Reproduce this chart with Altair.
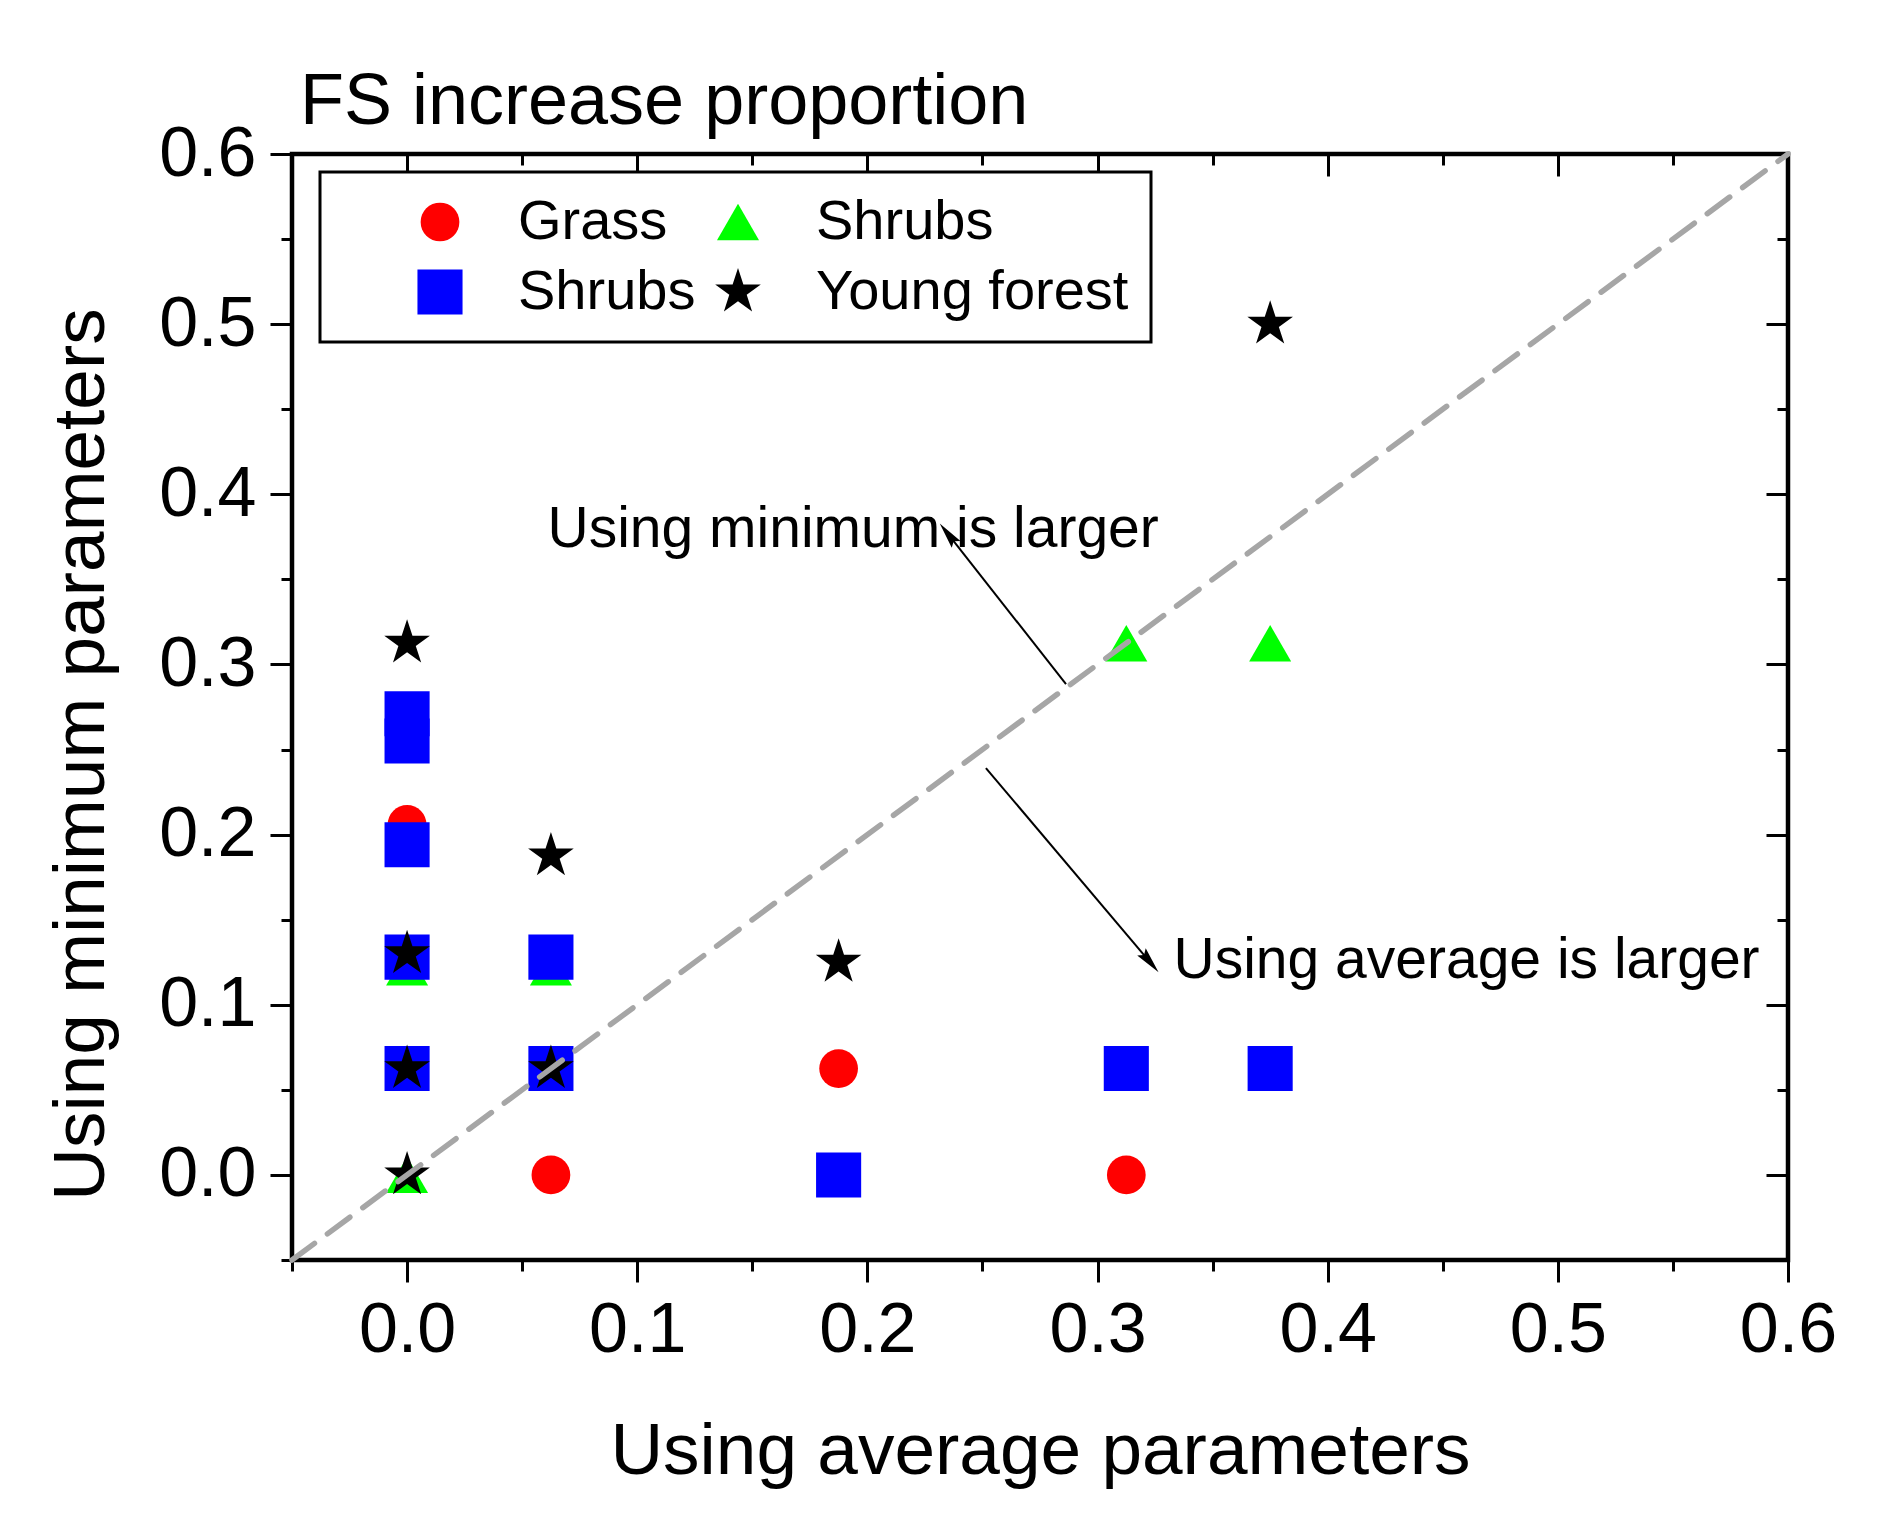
import altair as alt
import pandas as pd
import numpy as np

FONT = "Liberation Sans"

# ---- data ----
series_names = ["Grass", "Shrubs", "Shrubs ", "Young forest"]
series_colors = ["#FF0000", "#00FF00", "#0000FF", "#000000"]

grass_x = [0.0, 0.0, 0.0, 0.0, 0.0625, 0.0625, 0.1875, 0.3125, 0.375]
grass_y = [0.125, 0.194, 0.206, 0.256, 0.0, 0.128, 0.0625, 0.0, 0.0625]

shrubs_tri_x = [0.0, 0.0, 0.0, 0.0625, 0.0625, 0.1875, 0.3125, 0.375]
shrubs_tri_y = [0.0, 0.122, 0.26, 0.0625, 0.122, 0.0, 0.3125, 0.3125]

shrubs_sq_x = [0.0, 0.0, 0.0, 0.0, 0.0, 0.0625, 0.0625, 0.1875, 0.3125, 0.375]
shrubs_sq_y = [0.0625, 0.128, 0.194, 0.255, 0.271, 0.0625, 0.128, 0.0, 0.0625, 0.0625]

forest_x = [0.0, 0.0, 0.0, 0.0, 0.0625, 0.0625, 0.1875, 0.375]
forest_y = [0.0, 0.0625, 0.13, 0.3125, 0.0625, 0.1875, 0.125, 0.5]

diag_x = [-0.05, 0.6]
diag_y = [-0.05, 0.6]

note_text = ["Using minimum is larger", "Using average is larger"]
note_x = [0.061, 0.333]
note_y = [0.369, 0.1157]
arrow_x1 = [0.2863, 0.2515]
arrow_y1 = [0.2885, 0.2391]
arrow_x2 = [0.235, 0.3228]
arrow_y2 = [0.3767, 0.1251]

tick_values = [-0.05, 0.0, 0.05, 0.1, 0.15, 0.2, 0.25, 0.3, 0.35, 0.4, 0.45, 0.5, 0.55, 0.6]

# ---- tables ----
rows = []
for name, xs_, ys_ in [
    (series_names[0], grass_x, grass_y),
    (series_names[1], shrubs_tri_x, shrubs_tri_y),
    (series_names[2], shrubs_sq_x, shrubs_sq_y),
    (series_names[3], forest_x, forest_y),
]:
    for a, b in zip(xs_, ys_):
        rows.append({"x": a, "y": b, "series": name})
df = pd.DataFrame(rows)
diag_df = pd.DataFrame({"x": diag_x, "y": diag_y})
note_df = pd.DataFrame({"x": note_x, "y": note_y, "t": note_text})

W, H = 1496, 1106
XD = [-0.05, 0.6]
YD = [-0.05, 0.6]
px_per_x = W / (XD[1] - XD[0])
px_per_y = H / (YD[1] - YD[0])
ang = [float(np.degrees(np.arctan2((x2 - x1) * px_per_x, (y2 - y1) * px_per_y)))
       for x1, y1, x2, y2 in zip(arrow_x1, arrow_y1, arrow_x2, arrow_y2)]
ang = [a % 360 for a in ang]
arrow_df = pd.DataFrame({"x1": arrow_x1, "y1": arrow_y1, "x2": arrow_x2, "y2": arrow_y2, "a": ang})

xs = alt.Scale(domain=XD, nice=False, zero=False)
ys = alt.Scale(domain=YD, nice=False, zero=False)

is_minor = "abs(datum.value*10 - round(datum.value*10)) > 0.001"
label_expr = "abs(datum.value*10 - round(datum.value*10)) < 0.001 ? format(datum.value, '.1f') : ''"
tick_size = {"condition": {"test": is_minor, "value": 11}, "value": 22}

x_bottom = alt.Axis(orient="bottom", values=tick_values, labelExpr=label_expr, tickSize=tick_size,
                    tickWidth=3, tickColor="black", domain=False, grid=False,
                    labelFont=FONT, labelFontSize=70, labelColor="black", labelPadding=14,
                    labelFlush=False, labelOverlap=False,
                    title="Using average parameters", titleFont=FONT, titleFontSize=73,
                    titleFontWeight="normal", titleColor="black", titlePadding=50)
y_left = alt.Axis(orient="left", values=tick_values, labelExpr=label_expr, tickSize=tick_size,
                  tickWidth=3, tickColor="black", domain=False, grid=False,
                  labelFont=FONT, labelFontSize=70, labelColor="black", labelPadding=14,
                  labelFlush=False, labelOverlap=False,
                  title="Using minimum parameters", titleFont=FONT, titleFontSize=73,
                  titleFontWeight="normal", titleColor="black", titlePadding=40,
                  titleY=600, titleAlign="center")
x_top_in = alt.Axis(orient="bottom", offset=-H, values=tick_values, tickSize=tick_size, tickWidth=3,
                    tickColor="black", labels=False, domain=False, grid=False, title=None)
y_right_in = alt.Axis(orient="left", offset=-W, values=tick_values, tickSize=tick_size, tickWidth=3,
                      tickColor="black", labels=False, domain=False, grid=False, title=None)

star_path = ("M0,-1L0.2245,-0.309L0.951,-0.309L0.363,0.118L0.588,0.809L0,0.382"
             "L-0.588,0.809L-0.363,0.118L-0.951,-0.309L-0.2245,-0.309Z")
shapes = ["circle", "triangle-up", "square", star_path]
sizes = [1500, 2300, 1150, 1800]

leg = alt.Legend(title=" ", titleOrient="left", titleFontSize=8, titlePadding=70,
                 orient="none", legendX=28, legendY=18, columns=2, direction="horizontal",
                 labelFont=FONT, labelFontSize=56, labelColor="black", labelLimit=1000,
                 labelExpr="datum.label == 'Young forest' ? datum.label + '    ' : datum.label",
                 symbolStrokeWidth=0, padding=22, rowPadding=14, columnPadding=14,
                 symbolOffset=0, labelOffset=50,
                 strokeColor="black", fillColor="white")

points = alt.Chart(df).mark_point(filled=True, opacity=1, strokeWidth=0).encode(
    x=alt.X("x:Q", scale=xs, axis=x_bottom),
    y=alt.Y("y:Q", scale=ys, axis=y_left),
    color=alt.Color("series:N", scale=alt.Scale(domain=series_names, range=series_colors), legend=leg),
    shape=alt.Shape("series:N", scale=alt.Scale(domain=series_names, range=shapes), legend=leg),
    size=alt.Size("series:N", scale=alt.Scale(domain=series_names, range=sizes), legend=leg),
)

diag = alt.Chart(diag_df).mark_line(color="#A6A6A6", strokeWidth=5.5, strokeDash=[28, 16], strokeCap="round").encode(
    x=alt.X("x:Q", scale=xs, axis=x_top_in),
    y=alt.Y("y:Q", scale=ys, axis=y_right_in),
)

arrows = alt.Chart(arrow_df).mark_rule(color="black", strokeWidth=2).encode(
    x=alt.X("x1:Q", scale=xs, axis=None), y=alt.Y("y1:Q", scale=ys, axis=None),
    x2="x2:Q", y2="y2:Q",
)
heads = alt.Chart(arrow_df).mark_point(filled=True, color="black", opacity=1, strokeWidth=0,
                                       shape="M0,-1L0.42,1L0,0.7L-0.42,1Z", size=700).encode(
    x=alt.X("x2:Q", scale=xs, axis=None), y=alt.Y("y2:Q", scale=ys, axis=None),
    angle=alt.Angle("a:Q", scale=None),
)
notes = alt.Chart(note_df).mark_text(align="left", baseline="alphabetic", font=FONT, fontSize=57,
                                     color="black").encode(
    x=alt.X("x:Q", scale=xs, axis=None), y=alt.Y("y:Q", scale=ys, axis=None), text="t:N",
)

chart = alt.layer(points, diag, arrows, heads, notes).resolve_axis(
    x="independent", y="independent"
).properties(
    width=W, height=H,
    background="white",
    title=alt.TitleParams("FS increase proportion", anchor="start", frame="group", font=FONT,
                          fontSize=72, fontWeight="normal", color="black", dx=8, offset=-20),
    autosize=alt.AutoSizeParams(type="none"),
    padding={"left": 284, "top": 146, "right": 80, "bottom": 260},
).configure_view(stroke="black", strokeWidth=4.5).configure_legend(strokeWidth=3)

chart.save("out.html", embed_options={"renderer": "svg", "actions": False})
